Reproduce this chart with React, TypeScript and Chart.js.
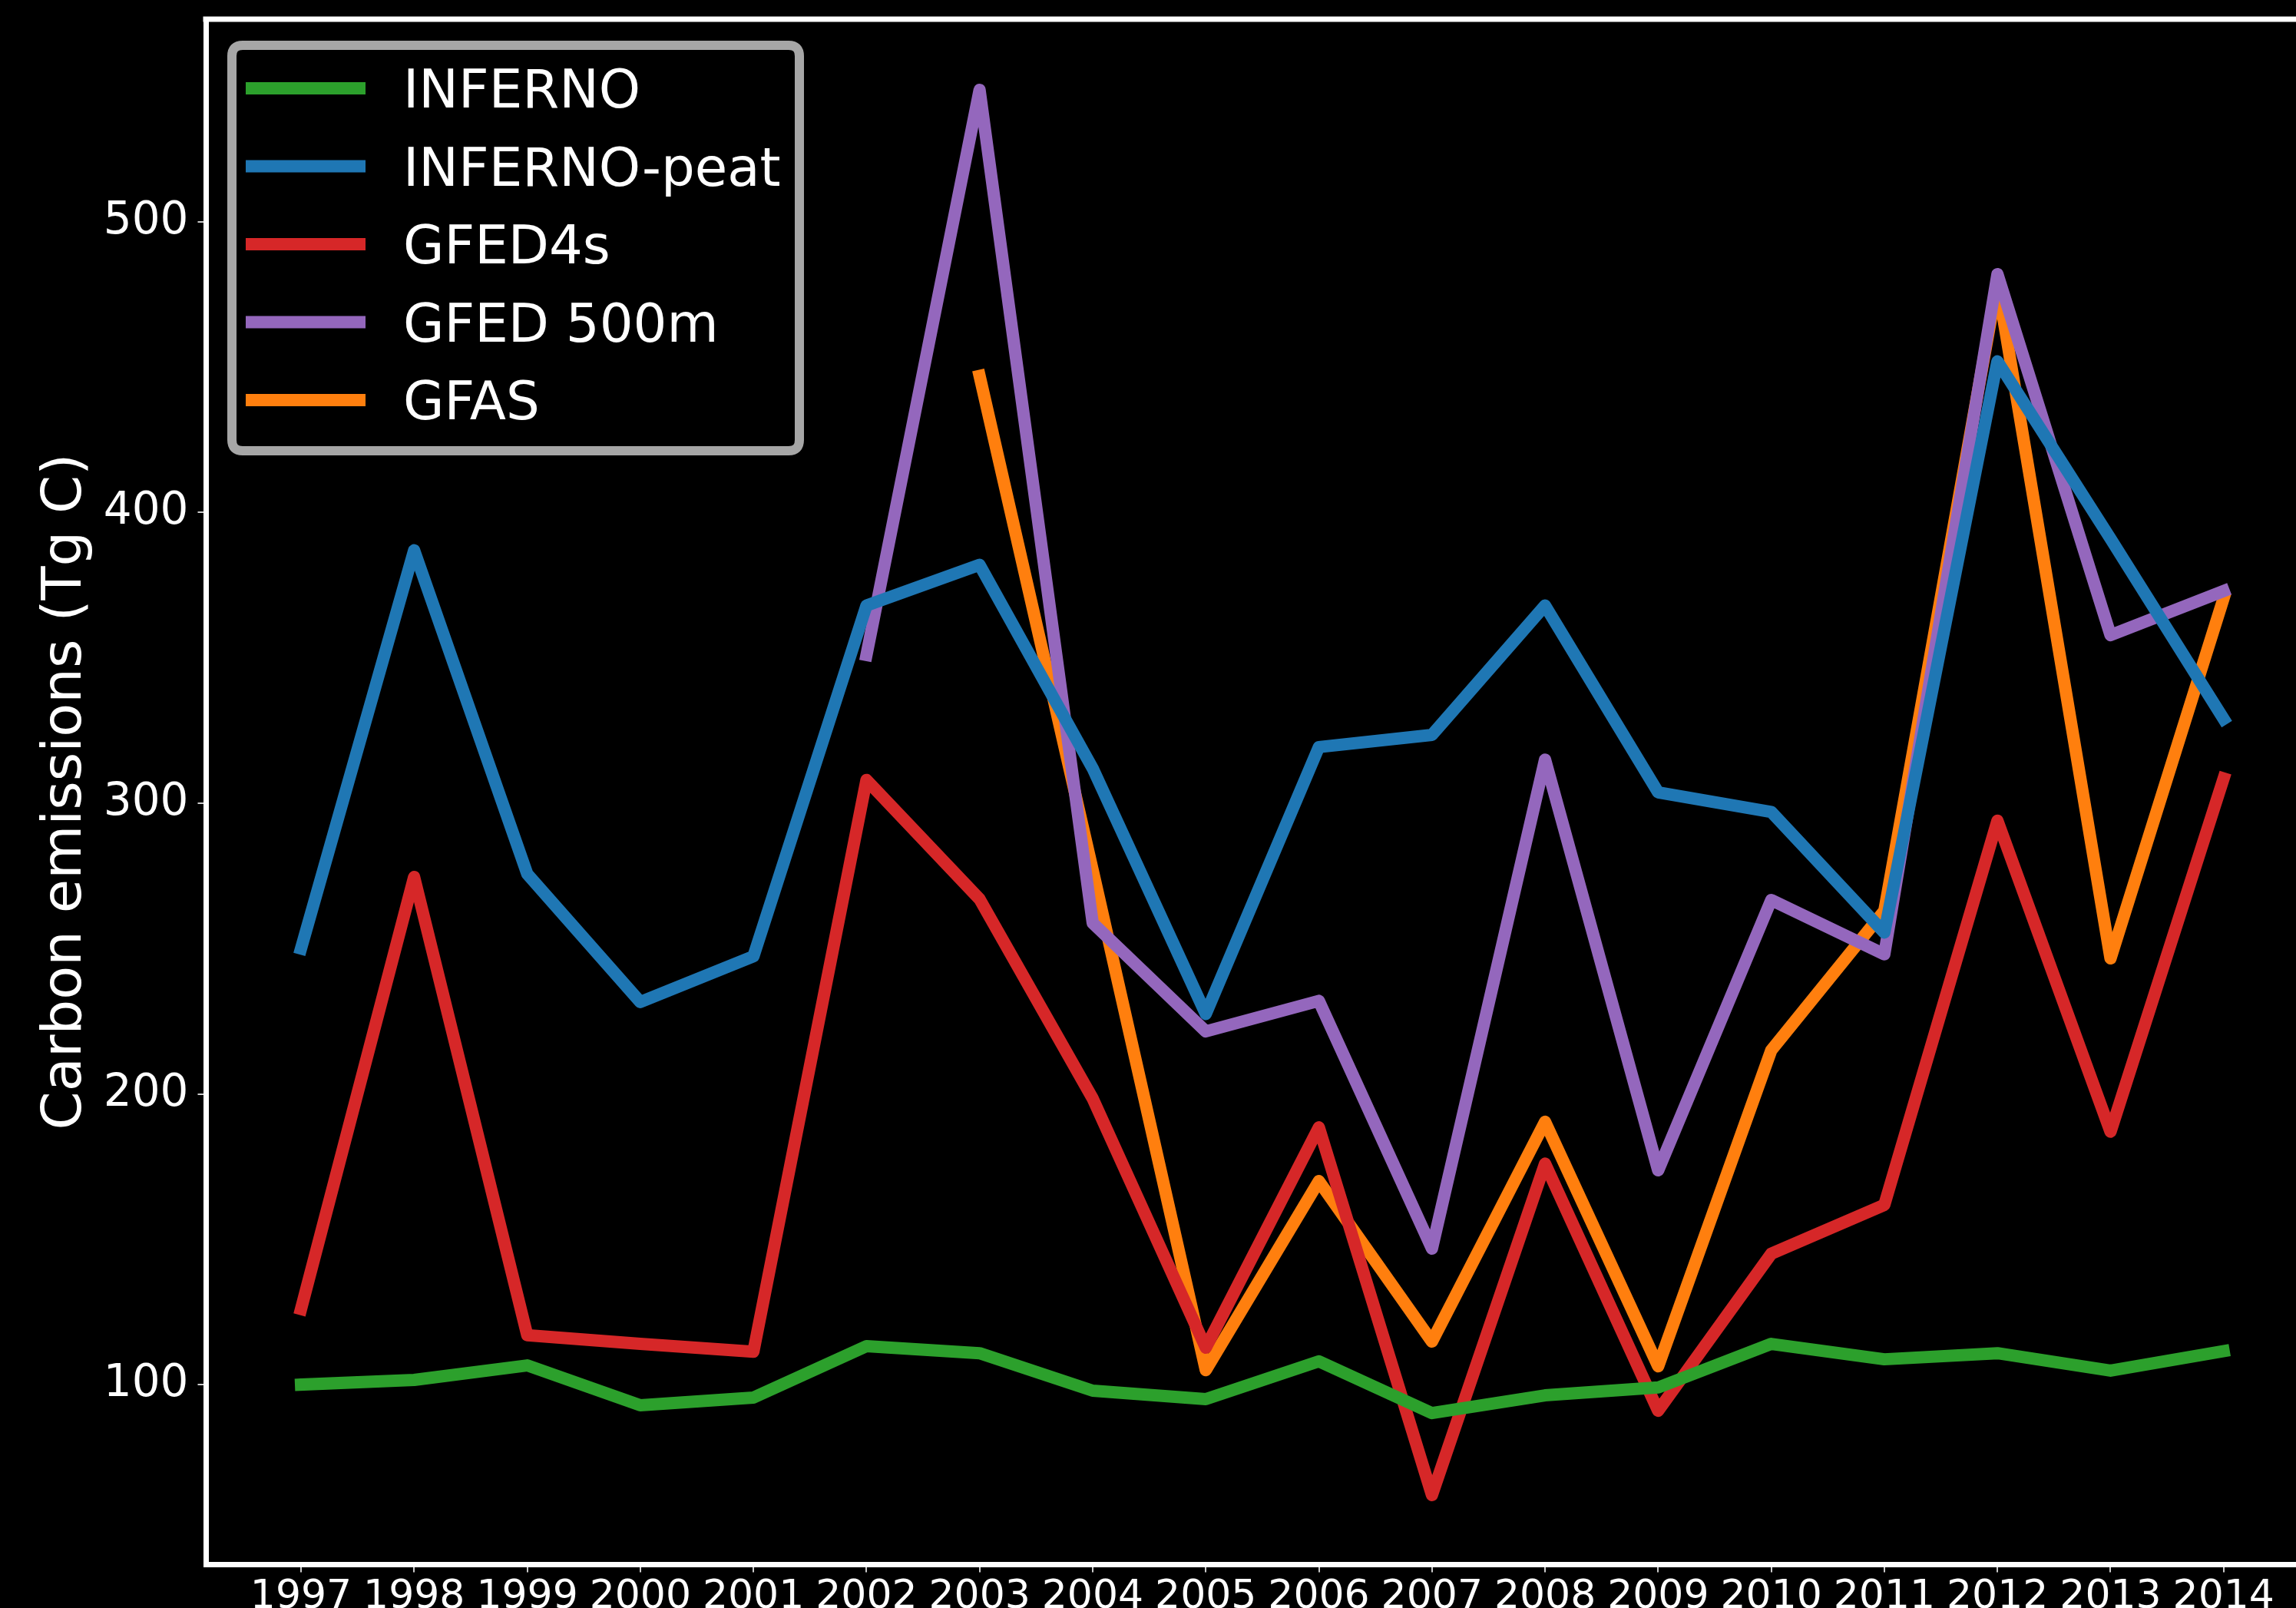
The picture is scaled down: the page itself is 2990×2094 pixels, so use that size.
import React, { useEffect, useRef } from "react";
import { Chart, registerables } from "chart.js";

Chart.register(...registerables);

const YEARS = [1997, 1998, 1999, 2000, 2001, 2002, 2003, 2004, 2005, 2006, 2007, 2008, 2009, 2010, 2011, 2012, 2013, 2014];
const Y_TICKS = [100, 200, 300, 400, 500];

const INFERNO = [100, 101.6, 106.6, 92.9, 95.5, 113.2, 110.8, 97.9, 95, 108, 90.2, 96.3, 99, 114, 108.7, 110.8, 104.8, 111.5];
const INFERNO_PEAT = [250, 387, 275.7, 231.6, 247.3, 368, 382, 312, 227.5, 319.3, 323.5, 368, 303.7, 297, 255.5, 452, 391, 329];
const GFED4S = [126, 274.6, 117, 114, 111.3, 308, 267, 198.4, 112.7, 188.5, 62, 176, 91, 145, 161.8, 294, 187, 308.5];
const GFED_500M = [null, null, null, null, null, 351, 545.4, 258.8, 221.5, 232, 146.8, 315, 173.7, 266.7, 248, 482, 357.8, 373];
const GFAS = [null, null, null, null, null, null, 447, 277, 105, 170, 114.8, 190.4, 106.3, 215, 263, 478.9, 246.6, 370.5];

const SERIES_NAMES = ["INFERNO", "INFERNO-peat", "GFED4s", "GFED 500m", "GFAS"];
const SERIES_VALUES = [INFERNO, INFERNO_PEAT, GFED4S, GFED_500M, GFAS];
const SERIES_COLORS = ["#2ca02c", "#1f77b4", "#d62728", "#9467bd", "#ff7f0e"];

const Y_TITLE = "Carbon emissions (Tg C)";
const FONT = "'DejaVu Sans', sans-serif";

const W = 2990;
const H = 2094;

const bgPlugin = {
  id: "bg",
  beforeDraw(chart: any) {
    const ctx = chart.ctx;
    ctx.save();
    ctx.fillStyle = "#000";
    ctx.fillRect(0, 0, chart.width, chart.height);
    ctx.restore();
  },
};

const decorPlugin = {
  id: "decor",
  afterDraw(chart: any) {
    const ctx = chart.ctx;
    const area = chart.chartArea;
    ctx.save();
    // top spine
    ctx.strokeStyle = "#fff";
    ctx.lineWidth = 7;
    ctx.beginPath();
    ctx.moveTo(area.left - 3.5, area.top);
    ctx.lineTo(chart.width, area.top);
    ctx.stroke();

    // legend box
    const bx = 302, by = 59, bw = 739, bh = 528, r = 14;
    ctx.beginPath();
    ctx.moveTo(bx + r, by);
    ctx.lineTo(bx + bw - r, by);
    ctx.quadraticCurveTo(bx + bw, by, bx + bw, by + r);
    ctx.lineTo(bx + bw, by + bh - r);
    ctx.quadraticCurveTo(bx + bw, by + bh, bx + bw - r, by + bh);
    ctx.lineTo(bx + r, by + bh);
    ctx.quadraticCurveTo(bx, by + bh, bx, by + bh - r);
    ctx.lineTo(bx, by + r);
    ctx.quadraticCurveTo(bx, by, bx + r, by);
    ctx.closePath();
    ctx.fillStyle = "#000";
    ctx.fill();
    ctx.strokeStyle = "#a6a6a6";
    ctx.lineWidth = 12;
    ctx.stroke();

    const ds = chart.data.datasets;
    ctx.font = `69px ${FONT}`;
    ctx.textBaseline = "alphabetic";
    ctx.textAlign = "left";
    for (let i = 0; i < ds.length; i++) {
      const cy = 115 + i * 101.5;
      ctx.strokeStyle = ds[i].borderColor;
      ctx.lineWidth = 16;
      ctx.lineCap = "butt";
      ctx.beginPath();
      ctx.moveTo(320, cy);
      ctx.lineTo(476, cy);
      ctx.stroke();
      ctx.fillStyle = "#fff";
      ctx.fillText(ds[i].label, 525, cy + 25);
    }
    ctx.restore();
  },
};

export default function App() {
  const ref = useRef<HTMLCanvasElement | null>(null);

  useEffect(() => {
    document.body.style.margin = "0";
    document.body.style.overflow = "hidden";
    const canvas = ref.current;
    if (!canvas) return;
    Chart.defaults.font.family = FONT;

    const datasets = SERIES_NAMES.map((name, i) => ({
      label: name,
      data: YEARS.map((yr, j) => ({ x: yr, y: SERIES_VALUES[i][j] })),
      borderColor: SERIES_COLORS[i],
      backgroundColor: SERIES_COLORS[i],
      borderWidth: 16,
      pointRadius: 0,
      pointHoverRadius: 0,
      borderJoinStyle: "round" as const,
      borderCapStyle: "square" as const,
      fill: false,
      tension: 0,
      spanGaps: false,
    }));

    const chart = new Chart(canvas, {
      type: "line",
      data: { datasets },
      options: {
        responsive: false,
        animation: false,
        devicePixelRatio: 1,
        layout: { padding: { top: 25, left: 0, right: 0, bottom: 0 } },
        plugins: {
          legend: { display: false },
          tooltip: { enabled: false },
        },
        scales: {
          x: {
            type: "linear",
            min: 1996.158,
            max: 2014.64,
            afterBuildTicks: (s: any) => {
              s.ticks = YEARS.map((v) => ({ value: v }));
            },
            afterFit: (s: any) => {
              s.height = 57;
              s.paddingLeft = 0;
              s.paddingRight = 0;
            },
            ticks: {
              color: "#fff",
              font: { family: FONT, size: 52 },
              maxRotation: 0,
              minRotation: 0,
              autoSkip: false,
              padding: 2,
              callback: (v: any) => String(v),
            },
            grid: {
              display: true,
              drawOnChartArea: false,
              drawTicks: true,
              tickLength: 10.5,
              color: "#cccccc",
              lineWidth: 2,
            },
            border: { display: true, color: "#fff", width: 7 },
          },
          y: {
            type: "linear",
            min: 38.2,
            max: 569.7,
            afterBuildTicks: (s: any) => {
              s.ticks = Y_TICKS.map((v) => ({ value: v }));
            },
            afterFit: (s: any) => {
              s.width = 268;
              s.paddingTop = 0;
              s.paddingBottom = 0;
            },
            ticks: {
              color: "#fff",
              font: { family: FONT, size: 58 },
              padding: 12,
              callback: (v: any) => String(v),
            },
            grid: {
              display: true,
              drawOnChartArea: false,
              drawTicks: true,
              tickLength: 10.5,
              color: "#cccccc",
              lineWidth: 2,
            },
            border: { display: true, color: "#fff", width: 7 },
            title: {
              display: true,
              text: Y_TITLE,
              color: "#fff",
              font: { family: FONT, size: 72 },
              padding: { top: 43, bottom: 0 },
            },
          },
        },
      },
      plugins: [bgPlugin, decorPlugin],
    });

    return () => {
      chart.destroy();
    };
  }, []);

  return (
    <div style={{ position: "absolute", left: 0, top: 0, width: W, height: H, background: "#000", overflow: "hidden" }}>
      <canvas ref={ref} width={W} height={H} style={{ display: "block", width: W, height: H }} />
    </div>
  );
}
